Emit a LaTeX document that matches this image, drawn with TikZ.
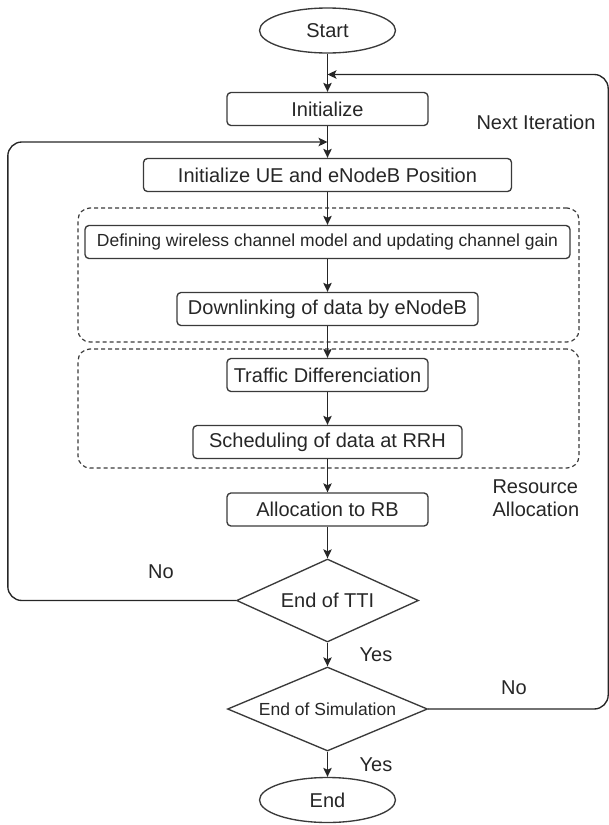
\documentclass[tikz,border=0pt]{standalone}
\usepackage{fontspec}
\setmainfont{Liberation Sans}
\usetikzlibrary{shapes.geometric,arrows.meta}
\definecolor{ink}{HTML}{262626}
\definecolor{frame}{HTML}{3A3A3A}
\begin{document}
\begin{tikzpicture}[x=1pt,y=-1pt,
  every node/.style={text=ink, font=\fontsize{20}{23}\selectfont},
  small/.style={font=\fontsize{17.5}{20}\selectfont},
  stepbox/.style={draw=frame, line width=1.35pt, rounded corners=4pt,
    minimum height=33pt, inner sep=0pt},
  terminal/.style={draw=frame, line width=1.35pt, ellipse,
    minimum width=136pt, minimum height=45pt, inner sep=0pt},
  decision/.style={draw=frame, line width=1.35pt, diamond, shape aspect=2,
    inner sep=0pt},
  groupbox/.style={draw=frame, line width=1.2pt, rounded corners=12pt,
    dash pattern=on 4pt off 3pt, inner sep=0pt},
  flow/.style={draw=ink, line width=1.35pt,
    -{Stealth[length=9pt,width=8.5pt,inset=2pt]}},
  loop/.style={flow, rounded corners=14pt},
]
\useasboundingbox (0,0) rectangle (609,825);

% dashed groupings
\node[groupbox, minimum width=501pt, minimum height=134pt] (gchan) at (328.5,275) {};
\node[groupbox, minimum width=501pt, minimum height=119pt] (gsched) at (328.5,408.5) {};

% main column
\node[terminal] (start) at (327.5,30.5) {Start};
\node[stepbox, minimum width=201pt] (init) at (327.5,109) {Initialize};
\node[stepbox, minimum width=368pt] (ue) at (327.5,175) {Initialize UE and eNodeB Position};
\node[stepbox, minimum width=485pt, small] (chan) at (327.5,242) {Defining wireless channel model and updating channel gain};
\node[stepbox, minimum width=301pt] (down) at (327.5,309) {Downlinking of data by eNodeB};
\node[stepbox, minimum width=201pt] (traffic) at (327.5,375) {Traffic Differenciation};
\node[stepbox, minimum width=269pt] (sched) at (327.5,442) {Scheduling of data at RRH};
\node[stepbox, minimum width=201pt] (alloc) at (327.5,509.5) {Allocation to RB};
\node[decision, minimum width=182pt, minimum height=83pt] (tti) at (327.5,600.5) {\makebox[0pt]{End of TTI}};
\node[decision, minimum width=200pt, minimum height=84pt, small] (eos) at (327.5,709) {\makebox[0pt]{End of Simulation}};
\node[terminal] (stop) at (327.5,800) {End};

% merge points of the two loops
\coordinate (mnext) at (327.5,74.5);
\coordinate (mtti) at (327.5,142);

% straight flow
\draw[flow] (start) -- (init);
\draw[flow] (init) -- (ue);
\draw[flow] (ue) -- (chan);
\draw[flow] (chan) -- (down);
\draw[flow] (down) -- (traffic);
\draw[flow] (traffic) -- (sched);
\draw[flow] (sched) -- (alloc);
\draw[flow] (alloc) -- (tti);
\draw[flow] (tti) -- (eos);
\draw[flow] (eos) -- (stop);

% loops back
\draw[loop] (tti.west) -- ++(-228,0) |- (mtti);
\draw[loop] (eos.east) -- ++(180,0) |- (mnext);

% labels
\node (lnext) at (536,122) {Next Iteration};
\node[anchor=west, align=left] (lres) at (489,498.5) {Resource\\Allocation};
\node (lno1) at (161,572) {No};
\node (lyes1) at (376,655) {Yes};
\node (lno2) at (514,688) {No};
\node (lyes2) at (376,765) {Yes};
\end{tikzpicture}
\end{document}
